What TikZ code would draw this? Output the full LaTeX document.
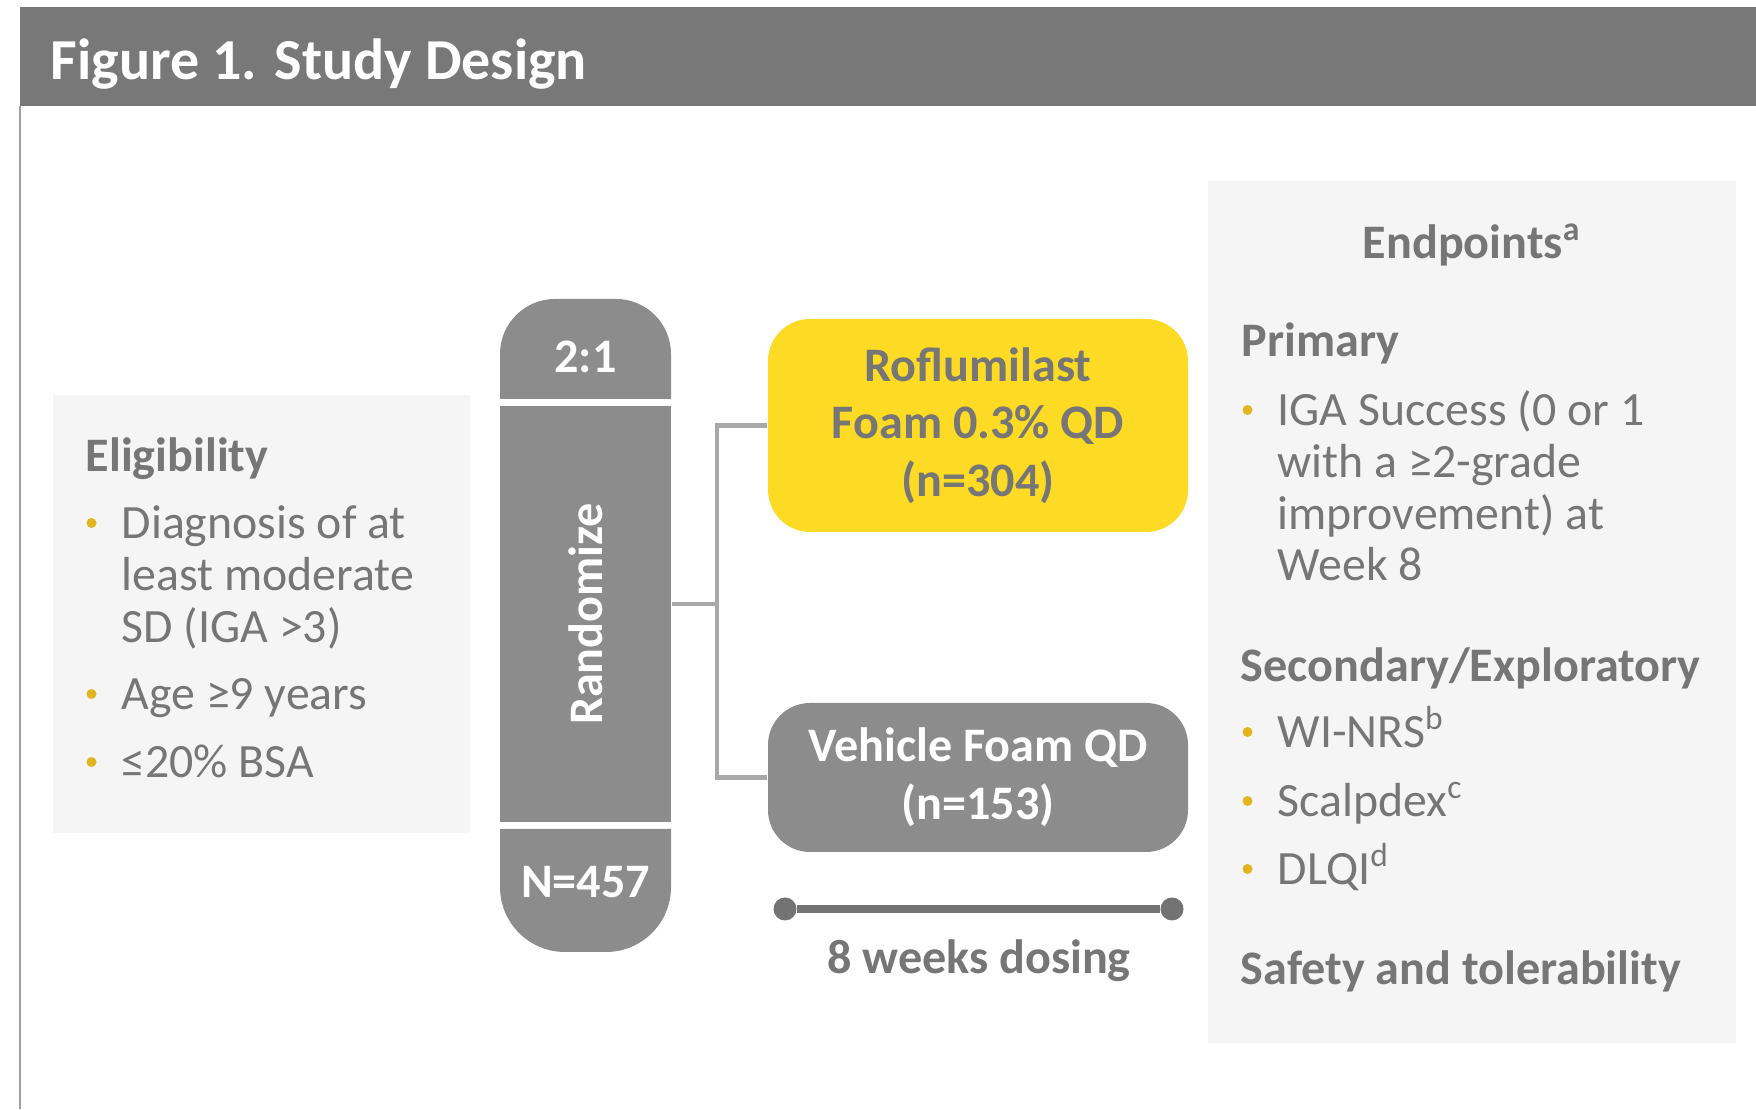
\documentclass[tikz,border=0pt]{standalone}
\usepackage{fontspec}
\setmainfont{Carlito}
\usetikzlibrary{positioning}

\definecolor{barGray}{HTML}{787878}
\definecolor{colGray}{HTML}{8C8C8C}
\definecolor{txtGray}{HTML}{767676}
\definecolor{panelGray}{HTML}{F5F5F5}
\definecolor{linkGray}{HTML}{A8A8A8}
\definecolor{edgeGray}{HTML}{A0A0A0}
\definecolor{lineGray}{HTML}{737373}
\definecolor{dotGold}{HTML}{E2B41D}
\definecolor{armYellow}{HTML}{FDDA24}

% lines of a bullet, first baseline on top
\newcommand{\bulletlines}[1]{\begin{tabular}[t]{@{}l@{}}#1\end{tabular}}

\begin{document}
\begin{tikzpicture}[
    head/.style={anchor=base west, inner sep=0pt, text=txtGray, font=\bfseries\fontsize{13.7}{16}\selectfont},
    item/.style={anchor=base west, inner sep=0pt, text=txtGray, font=\fontsize{13.6}{14.7}\selectfont},
    captext/.style={anchor=base, inner sep=0pt, text=white, font=\bfseries\fontsize{13.7}{16}\selectfont},
    arm/.style={minimum width=4.20cm, minimum height=2.13cm, rounded corners=0.42cm, inner sep=0pt, align=center, font=\bfseries\fontsize{13.7}{16.4}\selectfont},
    link/.style={linkGray, line width=1.2pt},
    dot/.style={circle, fill=lineGray, minimum size=0.23cm, inner sep=0pt}
]
    \useasboundingbox (0,0) rectangle (17.56,11.09);

    % Header
    \fill[barGray] (0.20,10.03) rectangle (17.56,11.02);
    \draw[edgeGray, line width=0.6pt] (0.20,10.03) -- (0.20,0);
    \node[anchor=base west, inner sep=0pt, text=white, font=\bfseries\fontsize{16.5}{20}\selectfont] (title) at (0.50,10.29) {Figure 1. Study Design};

    % Panels
    \fill[panelGray] (0.53,2.76) rectangle (4.70,7.14);
    \fill[panelGray] (12.08,0.66) rectangle (17.36,9.28);

    % Eligibility
    \node[head] (elhead) at (0.85,6.37) {Eligibility};
    \node[item] (el1) at (1.21,5.70) {\bulletlines{Diagnosis of at\\least moderate\\SD (IGA >3)}};
    \node[item] (el2) at (1.21,3.99) {Age ≥9 years};
    \node[item] (el3) at (1.21,3.31) {≤20\% BSA};

    % Randomize column
    \fill[colGray] (5.00,7.10) -- (5.00,7.55) arc[start angle=180, end angle=90, radius=0.55]
        -- (6.16,8.10) arc[start angle=90, end angle=0, radius=0.55] -- (6.71,7.10) -- cycle;
    \fill[colGray] (5.00,2.80) -- (5.00,2.22) arc[start angle=180, end angle=270, radius=0.65]
        -- (6.06,1.57) arc[start angle=270, end angle=360, radius=0.65] -- (6.71,2.80) -- cycle;
    \node[fill=colGray, minimum width=1.71cm, minimum height=4.16cm, inner sep=0pt, text=white, font=\bfseries\fontsize{13.7}{16}\selectfont] (rand) at (5.855,4.95) {\rotatebox{90}{Randomize}};
    \node[captext] (ratio) at (5.855,7.36) {2:1};
    \node[captext] (total) at (5.855,2.11) {N=457};

    % Arms
    \node[arm, fill=armYellow, text=txtGray] (roflu) at (9.78,6.835) {Roflumilast\\Foam 0.3\% QD\\(n=304)};
    \node[arm, fill=colGray, text=white, minimum height=1.49cm] (veh) at (9.78,3.315) {Vehicle Foam QD\\(n=153)};

    \coordinate (fork) at (7.17,5.05);
    \draw[link] (rand.east |- fork) -- (fork);
    \draw[link] (roflu.west) -| (fork) |- (veh.west);

    % Dosing period
    \node[dot] (start) at (7.85,2.00) {};
    \node[dot] (stop) at (11.72,2.00) {};
    \draw[lineGray, line width=2.3pt] (start) -- (stop);
    \node[captext, text=txtGray] (dosing) at (9.79,1.35) {8 weeks dosing};

    % Endpoints
    \node[head, anchor=base] (ephead) at (14.72,8.50) {Endpoints\textsuperscript{a}};
    \node[head] (prim) at (12.41,7.52) {Primary};
    \node[item] (ep1) at (12.77,6.83) {\bulletlines{IGA Success (0 or 1\\with a ≥2-grade\\improvement) at\\Week 8}};
    \node[head] (sec) at (12.40,4.27) {Secondary/Exploratory};
    \node[item] (ep2) at (12.77,3.61) {WI-NRS\textsuperscript{b}};
    \node[item] (ep3) at (12.77,2.92) {Scalpdex\textsuperscript{c}};
    \node[item] (ep4) at (12.77,2.24) {DLQI\textsuperscript{d}};
    \node[head] (safe) at (12.40,1.24) {Safety and tolerability};

    % Bullets
    \foreach \b in {el1, el2, el3, ep1, ep2, ep3, ep4} {
        \fill[dotGold] ([xshift=-0.295cm, yshift=0.16cm]\b.base west) circle (0.05);
    }
\end{tikzpicture}
\end{document}
